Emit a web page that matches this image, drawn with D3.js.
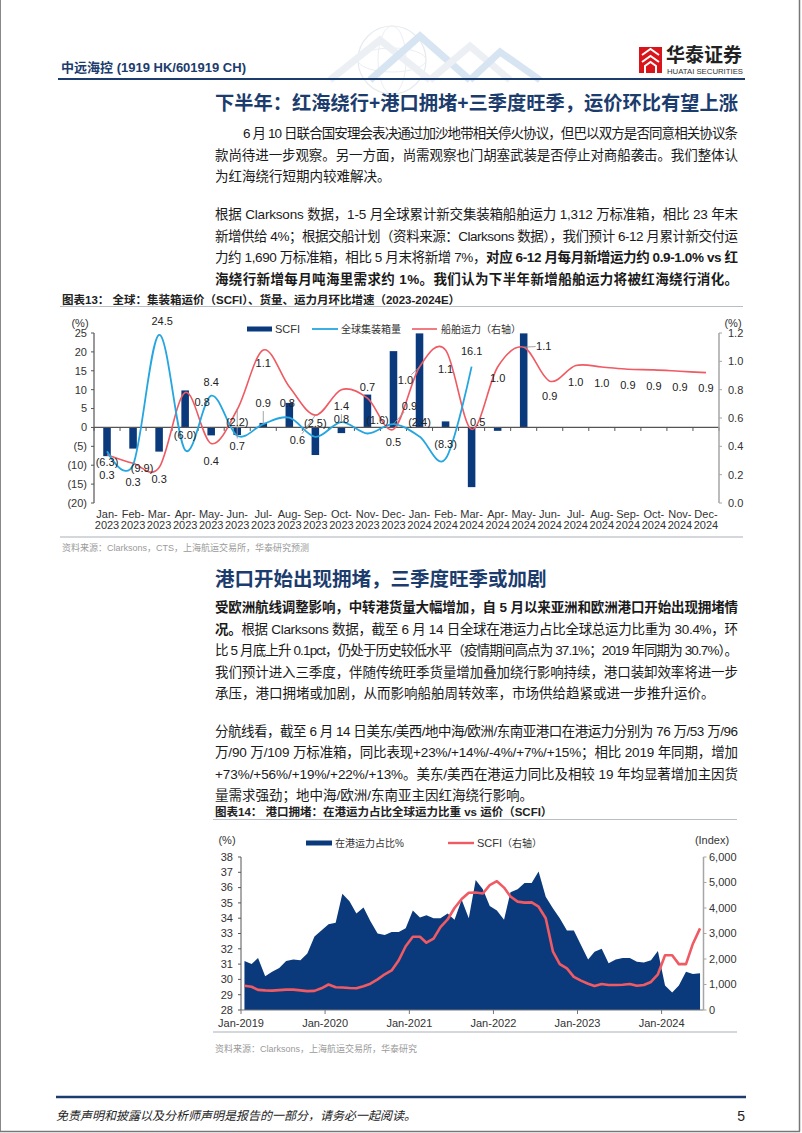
<!DOCTYPE html>
<html><head><meta charset="utf-8">
<script src="https://cdn.jsdelivr.net/npm/d3@7"></script>
<style>
html,body{margin:0;padding:0;background:#fff;}
svg{display:block;}
</style></head>
<body>
<svg id="page" width="802" height="1133"></svg>
<script>
// ================= DATA =================
// Chart 13: monthly MoM growth (%)
const months1 = ["Jan-2023","Feb-2023","Mar-2023","Apr-2023","May-2023","Jun-2023","Jul-2023","Aug-2023","Sep-2023","Oct-2023","Nov-2023","Dec-2023",
                 "Jan-2024","Feb-2024","Mar-2024","Apr-2024","May-2024","Jun-2024","Jul-2024","Aug-2024","Sep-2024","Oct-2024","Nov-2024","Dec-2024"];
const scfiMoM = [-7.6,-5.6,-6.4,9.8,-2.1,-2.0,1.2,6.5,-7.3,-1.5,8.7,20.2,24.9,1.6,-15.8,-0.9,24.9,null,null,null,null,null,null,null];
const volumeMoM = [-6.3,-9.9,24.5,-6.0,8.4,-2.2,0.9,2.6,-2.5,1.4,-1.6,0.9,-2.4,-8.3,16.1,null,null,null,null,null,null,null,null,null];
const capacityMoM = [0.34,0.28,0.25,0.78,0.42,0.66,1.08,0.82,0.62,0.80,0.74,0.52,0.96,1.08,0.52,0.96,1.10,0.86,0.97,0.96,0.944,0.94,0.93,0.92];
const leftTicks1 = [-20,-15,-10,-5,0,5,10,15,20,25];
const rightTicks1 = [0,0.2,0.4,0.6,0.8,1.0,1.2];

// Chart 14: share of fleet capacity in port (%) and SCFI index, monthly Jan-2019 .. Jun-2024
const portShare = [31.2,31.0,31.4,30.2,30.5,30.75,31.2,31.3,31.25,31.7,32.8,33.2,
                   33.6,33.7,35.6,35.1,34.3,34.7,33.8,33.0,32.9,33.1,33.1,33.35,
                   34.5,34.05,34.2,34.0,34.0,34.3,33.9,35.2,34.0,36.5,35.9,34.8,
                   34.5,33.9,35.7,35.9,36.3,36.3,37.05,35.4,34.65,34.0,33.2,33.2,
                   32.25,31.3,31.8,32.0,31.05,31.3,31.4,31.4,31.15,31.1,31.25,31.85,
                   29.6,29.15,29.6,30.5,30.35,30.4];
const scfiIndex = [950,910,790,770,760,780,800,800,770,740,750,850,
                   1000,890,880,860,850,930,1030,1200,1400,1550,1950,2500,
                   2870,2870,2640,2800,3250,3550,4000,4350,4600,4610,4570,4900,
                   5050,4800,4450,4250,4210,4220,4050,3600,2300,1800,1630,1300,
                   1150,1030,940,1020,980,980,990,1020,950,980,1100,1400,
                   2150,2150,1800,1800,2600,3200];
const xTickLabels2 = ["Jan-2019","Jan-2020","Jan-2021","Jan-2022","Jan-2023","Jan-2024"];
const leftTicks2 = [28,29,30,31,32,33,34,35,36,37,38];
const rightTicks2 = [0,1000,2000,3000,4000,5000,6000];

// ================= SETUP =================
const svg = d3.select("#page");
const LAT = "'Liberation Sans', Arial, 'Noto Sans CJK SC', sans-serif";
const NAVY = "#1b3c6d";
const BAR = "#0b3a7c";
const RED = "#ef5a63";
const BLUE = "#25a6e0";

// page frame
svg.append("line").attr("x1",0.5).attr("x2",0.5).attr("y1",0).attr("y2",1131).attr("stroke","#888");
svg.append("line").attr("x1",799.5).attr("x2",799.5).attr("y1",0).attr("y2",1131.5).attr("stroke","#777").attr("stroke-width",1.5);
svg.append("line").attr("x1",0).attr("x2",800).attr("y1",1131.5).attr("y2",1131.5).attr("stroke","#777").attr("stroke-width",1.5);

// header decoration (faint)
const deco = svg.append("g").attr("opacity",0.35);
deco.append("circle").attr("cx",392).attr("cy",60).attr("r",34).attr("fill","none").attr("stroke","#b9c6d6").attr("stroke-width",1.2);
deco.append("ellipse").attr("cx",392).attr("cy",60).attr("rx",34).attr("ry",12).attr("fill","none").attr("stroke","#c6d1de");
deco.append("ellipse").attr("cx",392).attr("cy",60).attr("rx",14).attr("ry",34).attr("fill","none").attr("stroke","#c6d1de");
[[330,80,380,40,430,80],[370,80,420,36,470,80],[430,80,470,46,510,80],[470,80,500,52,540,80]].forEach((p,i)=>{
  deco.append("path").attr("d",`M${p[0]},${p[1]}L${p[2]},${p[3]}L${p[4]},${p[5]}`)
    .attr("fill","none").attr("stroke", i%2? "#8fb3dc":"#c9d3df").attr("stroke-width",7);
});

// header
const hdr = svg.append("text").attr("x",61).attr("y",72).attr("fill",NAVY).attr("font-weight","bold").attr("font-size",13).attr("font-family",LAT);
hdr.append("tspan").text("中远海控");
hdr.append("tspan").text(" (1919 HK/601919 CH)");
svg.append("line").attr("x1",58).attr("x2",745).attr("y1",79).attr("y2",79).attr("stroke",NAVY).attr("stroke-width",2);

// logo
const logo = svg.append("g");
logo.append("rect").attr("x",639).attr("y",47).attr("width",23).attr("height",26).attr("fill","#d9141b");
logo.append("path").attr("d","M642,55 L650.5,49 L659,55 M642,62 L650.5,56 L659,62 M645,73 L645,66 L650.5,62 L656,66 L656,73")
  .attr("fill","none").attr("stroke","#fff").attr("stroke-width",2);
logo.append("text").attr("x",666).attr("y",62).attr("font-size",19).attr("font-weight","bold").attr("fill","#222")
  .attr("font-family","'Noto Sans CJK SC', sans-serif").text("华泰证券");
logo.append("text").attr("x",667).attr("y",73.5).attr("font-size",6.4).attr("fill","#333").attr("font-family",LAT)
  .attr("textLength",76).attr("lengthAdjust","spacingAndGlyphs").text("HUATAI SECURITIES");

// headings
svg.append("text").attr("x",215).attr("y",110).attr("font-size",19.5).attr("font-weight","bold").attr("fill",NAVY)
  .attr("font-family",LAT).attr("textLength",523).attr("lengthAdjust","spacingAndGlyphs")
  .text("下半年：红海绕行+港口拥堵+三季度旺季，运价环比有望上涨");
svg.append("text").attr("x",215).attr("y",586).attr("font-size",19.5).attr("font-weight","bold").attr("fill",NAVY)
  .attr("font-family",LAT).text("港口开始出现拥堵，三季度旺季或加剧");

// body text lines: [segments [text, bold]], full-width justified?
const bodyText = [
  {y:133, ind:28, full:true, t:[["6 月 10 日联合国安理会表决通过加沙地带相关停火协议，但巴以双方是否同意相关协议条",0]]},
  {y:154.5, full:true, t:[["款尚待进一步观察。另一方面，尚需观察也门胡塞武装是否停止对商船袭击。我们整体认",0]]},
  {y:176, t:[["为红海绕行短期内较难解决。",0]]},
  {y:214, full:true, t:[["根据 Clarksons 数据，1-5 月全球累计新交集装箱船舶运力 1,312 万标准箱，相比 23 年末",0]]},
  {y:235.5, full:true, t:[["新增供给 4%；根据交船计划（资料来源：Clarksons 数据），我们预计 6-12 月累计新交付运",0]]},
  {y:257, full:true, t:[["力约 1,690 万标准箱，相比 5 月末将新增 7%，",0],["对应 6-12 月每月新增运力约 0.9-1.0% vs 红",1]]},
  {y:278.5, full:true, t:[["海绕行新增每月吨海里需求约 1%。我们认为下半年新增船舶运力将被红海绕行消化。",1]]},
  {y:607, full:true, t:[["受欧洲航线调整影响，中转港货量大幅增加，自 5 月以来亚洲和欧洲港口开始出现拥堵情",1]]},
  {y:628.5, full:true, t:[["况。",1],["根据 Clarksons 数据，截至 6 月 14 日全球在港运力占比全球总运力比重为 30.4%，环",0]]},
  {y:650, full:true, t:[["比 5 月底上升 0.1pct，仍处于历史较低水平（疫情期间高点为 37.1%；2019 年同期为 30.7%）。",0]]},
  {y:671.5, full:true, t:[["我们预计进入三季度，伴随传统旺季货量增加叠加绕行影响持续，港口装卸效率将进一步",0]]},
  {y:693, t:[["承压，港口拥堵或加剧，从而影响船舶周转效率，市场供给趋紧或进一步推升运价。",0]]},
  {y:730.5, full:true, t:[["分航线看，截至 6 月 14 日美东/美西/地中海/欧洲/东南亚港口在港运力分别为 76 万/53 万/96",0]]},
  {y:752, full:true, t:[["万/90 万/109 万标准箱，同比表现+23%/+14%/-4%/+7%/+15%；相比 2019 年同期，增加",0]]},
  {y:773.5, full:true, t:[["+73%/+56%/+19%/+22%/+13%。美东/美西在港运力同比及相较 19 年均显著增加主因货",0]]},
  {y:795, t:[["量需求强劲；地中海/欧洲/东南亚主因红海绕行影响。",0]]}
];
bodyText.forEach(l=>{
  const x0 = 215 + (l.ind||0);
  const t = svg.append("text").attr("x",x0).attr("y",l.y+5).attr("font-size",13.5).attr("fill","#1a1a1a").attr("font-family",LAT);
  if (l.full) t.attr("textLength",738-x0).attr("lengthAdjust","spacing");
  l.t.forEach(s=>t.append("tspan").attr("font-weight",s[1]?"bold":"normal").text(s[0]));
});

// ================= CHART 13 =================
const g1 = svg.append("g");
g1.append("text").attr("x",62).attr("y",304).attr("font-size",11.5).attr("font-weight","bold").attr("fill","#222").attr("font-family",LAT)
  .text("图表13：  全球：集装箱运价（SCFI）、货量、运力月环比增速（2023-2024E）");
g1.append("line").attr("x1",60).attr("x2",743).attr("y1",306.5).attr("y2",306.5).attr("stroke","#b8bec8");
g1.append("line").attr("x1",60).attr("x2",743).attr("y1",537).attr("y2",537).attr("stroke","#d4d7dc").attr("stroke-width",2);
g1.append("text").attr("x",62).attr("y",551).attr("font-size",9).attr("fill","#9a9a9a").attr("font-family",LAT)
  .text("资料来源：Clarksons，CTS，上海航运交易所，华泰研究预测");

const x1 = d3.scaleBand().domain(months1).range([94,719]);
const yL = d3.scaleLinear().domain([-20,25]).range([503,333]);
const yR = d3.scaleLinear().domain([0,1.2]).range([503,333]);
const bw = x1.bandwidth();
const cx = m => x1(m) + bw/2;

// bars
g1.append("g").selectAll("rect").data(months1.map((m,i)=>({m,v:scfiMoM[i]})).filter(d=>d.v!=null))
  .join("rect")
  .attr("x",d=>cx(d.m)-bw*0.145).attr("width",bw*0.29)
  .attr("y",d=>yL(Math.max(0,d.v))).attr("height",d=>Math.abs(yL(d.v)-yL(0)))
  .attr("fill",BAR);

// zero axis + ticks
g1.append("line").attr("x1",94).attr("x2",719).attr("y1",yL(0)).attr("y2",yL(0)).attr("stroke","#555").attr("stroke-width",1.3);
g1.append("g").selectAll("line").data(d3.range(months1.length+1)).join("line")
  .attr("x1",i=>94+i*x1.step()).attr("x2",i=>94+i*x1.step()).attr("y1",yL(0)).attr("y2",yL(0)+3.5).attr("stroke","#555");

// left axis
g1.append("line").attr("x1",94).attr("x2",94).attr("y1",yL(25)).attr("y2",yL(-20)).attr("stroke","#555").attr("stroke-width",1.2);
const lt = g1.append("g").selectAll("g").data(leftTicks1).join("g");
lt.append("line").attr("x1",91).attr("x2",94).attr("y1",d=>yL(d)).attr("y2",d=>yL(d)).attr("stroke","#555");
lt.append("text").attr("x",87).attr("y",d=>yL(d)).attr("dy","0.35em").attr("text-anchor","end")
  .attr("font-size",11).attr("fill","#333").attr("font-family",LAT).text(d=>d<0?`(${-d})`:d);
g1.append("text").attr("x",80).attr("y",323).attr("dy","0.35em").attr("text-anchor","middle").attr("font-size",11).attr("fill","#333").attr("font-family",LAT).text("(%)");

// right axis
g1.append("line").attr("x1",719).attr("x2",719).attr("y1",yR(1.2)).attr("y2",yR(0)).attr("stroke","#a6a6a6").attr("stroke-width",1.5);
const rt = g1.append("g").selectAll("g").data(rightTicks1).join("g");
rt.append("line").attr("x1",719).attr("x2",722).attr("y1",d=>yR(d)).attr("y2",d=>yR(d)).attr("stroke","#a6a6a6");
rt.append("text").attr("x",728).attr("y",d=>yR(d)).attr("dy","0.35em").attr("font-size",11).attr("fill","#333").attr("font-family",LAT).text(d=>d3.format(".1f")(d));
g1.append("text").attr("x",733).attr("y",323).attr("dy","0.35em").attr("text-anchor","middle").attr("font-size",11).attr("fill","#333").attr("font-family",LAT).text("(%)");

// x labels
const xl = g1.append("g").selectAll("text").data(months1).join("text")
  .attr("x",d=>cx(d)).attr("y",514).attr("text-anchor","middle").attr("font-size",11).attr("fill","#333").attr("font-family",LAT);
xl.append("tspan").attr("x",d=>cx(d)).attr("dy","0.35em").text(d=>d.split("-")[0]+"-");
xl.append("tspan").attr("x",d=>cx(d)).attr("dy","1.05em").text(d=>d.split("-")[1]);

// lines
const smooth = d3.curveCardinal.tension(0);
const volPts = months1.map((m,i)=>({m,v:volumeMoM[i]}));
const capPts = months1.map((m,i)=>({m,v:capacityMoM[i]}));
g1.append("path").datum(capPts).attr("fill","none").attr("stroke",RED).attr("stroke-width",1.6)
  .attr("d",d3.line().defined(d=>d.v!=null).x(d=>cx(d.m)).y(d=>yR(d.v)).curve(smooth));
g1.append("path").datum(volPts).attr("fill","none").attr("stroke",BLUE).attr("stroke-width",1.8)
  .attr("d",d3.line().defined(d=>d.v!=null).x(d=>cx(d.m)).y(d=>yL(d.v)).curve(smooth));

// data labels (anchored at series points with pixel offsets)
const fmtVol = v => v<0 ? `(${d3.format(".1f")(-v)})` : d3.format(".1f")(v);
const labelCfg = [
  ["cap",0,0,20],["cap",1,0,19],["cap",2,0,12],["cap",3,17,10],["cap",4,0,18],["cap",5,0,37,1],["cap",6,0,13],
  ["cap",7,-2,16],["cap",8,-18,25,1],["cap",9,0,29],["cap",10,0,-11],["cap",11,0,13],["cap",12,-14,13,1],["cap",13,0,19],
  ["cap",14,6,-7],["cap",15,0,11],["cap",16,20,-1,1],["cap",17,0,15],["cap",18,0,17],["cap",19,0,16],["cap",20,0,16],
  ["cap",21,0,16],["cap",22,0,16],["cap",23,0,15],
  ["vol",0,0,11],["vol",1,9,3],["vol",2,3,-14],["vol",3,0,-15],["vol",4,0,-14],["vol",5,0,-14],["vol",6,0,-21,1],
  ["vol",8,0,-14],["vol",9,0,-16,1],["vol",10,10,-13],["vol",11,16,-18,1],["vol",12,0,-14],["vol",13,0,-15],["vol",14,0,-15]
];
const lab = g1.append("g");
labelCfg.forEach(([s,i,dx,dy,lead])=>{
  const v = s==="cap" ? capacityMoM[i] : volumeMoM[i];
  const ax = cx(months1[i]), ay = s==="cap" ? yR(v) : yL(v);
  const lx = ax+dx, ly = ay+dy;
  if (lead) {
    const len = Math.hypot(dx,dy), k = Math.max(0,(len-8)/len);
    lab.append("line").attr("x1",ax).attr("y1",ay).attr("x2",ax+dx*k).attr("y2",ay+dy*k).attr("stroke","#9a9a9a").attr("stroke-width",0.9);
  }
  lab.append("text").attr("x",lx).attr("y",ly).attr("dy","0.35em").attr("text-anchor","middle")
    .attr("font-size",11).attr("fill","#222").attr("font-family",LAT)
    .text(s==="cap" ? d3.format(".1f")(v) : fmtVol(v));
});

// legend
const lg = g1.append("g").attr("font-family",LAT).attr("font-size",11).attr("fill","#333");
lg.append("rect").attr("x",247).attr("y",326.5).attr("width",25).attr("height",5).attr("fill",BAR);
lg.append("text").attr("x",275).attr("y",329).attr("dy","0.35em").text("SCFI");
lg.append("line").attr("x1",312).attr("x2",338).attr("y1",329).attr("y2",329).attr("stroke",BLUE).attr("stroke-width",1.8);
lg.append("text").attr("x",341).attr("y",329).attr("dy","0.35em").attr("font-size",10).text("全球集装箱量");
lg.append("line").attr("x1",412).attr("x2",437).attr("y1",329).attr("y2",329).attr("stroke",RED).attr("stroke-width",1.6);
lg.append("text").attr("x",441).attr("y",329).attr("dy","0.35em").attr("font-size",10).text("船舶运力（右轴）");

// ================= CHART 14 =================
const g2 = svg.append("g");
g2.append("text").attr("x",215).attr("y",816).attr("font-size",11.5).attr("font-weight","bold").attr("fill","#222").attr("font-family",LAT)
  .text("图表14：  港口拥堵：在港运力占比全球运力比重 vs 运价（SCFI）");
g2.append("line").attr("x1",213).attr("x2",737).attr("y1",819.5).attr("y2",819.5).attr("stroke","#b8bec8");
g2.append("line").attr("x1",213).attr("x2",737).attr("y1",1032).attr("y2",1032).attr("stroke","#d4d7dc").attr("stroke-width",2);
g2.append("text").attr("x",215).attr("y",1052).attr("font-size",9).attr("fill","#9a9a9a").attr("font-family",LAT)
  .text("资料来源：Clarksons，上海航运交易所，华泰研究");

const x2 = d3.scaleTime().domain([new Date(2019,0,1), new Date(2024,6,1)]).range([241,703.5]);
const y2L = d3.scaleLinear().domain([28,38]).range([1010,857]);
const y2R = d3.scaleLinear().domain([0,6000]).range([1010,857]);
const monthStarts = d3.timeMonth.range(new Date(2019,0,1), new Date(2024,6,1));
const pts2 = monthStarts.map((d,i)=>({d:new Date(d.getFullYear(), d.getMonth(), 16), a:portShare[i], s:scfiIndex[i]}));

g2.append("path").datum(pts2).attr("fill",BAR)
  .attr("d",d3.area().x(d=>x2(d.d)).y0(y2L(28)).y1(d=>y2L(d.a)));
g2.append("path").datum(pts2).attr("fill","none").attr("stroke",RED).attr("stroke-width",2.6).attr("stroke-linejoin","round")
  .attr("d",d3.line().x(d=>x2(d.d)).y(d=>y2R(d.s)));

// axes
g2.append("line").attr("x1",241).attr("x2",241).attr("y1",857).attr("y2",1010).attr("stroke","#555");
const lt2 = g2.append("g").selectAll("g").data(leftTicks2).join("g");
lt2.append("line").attr("x1",238).attr("x2",241).attr("y1",d=>y2L(d)).attr("y2",d=>y2L(d)).attr("stroke","#555");
lt2.append("text").attr("x",233).attr("y",d=>y2L(d)).attr("dy","0.35em").attr("text-anchor","end").attr("font-size",11).attr("fill","#333").attr("font-family",LAT).text(d=>d);
g2.append("line").attr("x1",241).attr("x2",703.5).attr("y1",1010).attr("y2",1010).attr("stroke","#777");
const yearTicks = xTickLabels2.map(s=>new Date(+s.split("-")[1],0,1));
g2.append("g").selectAll("line").data(yearTicks).join("line")
  .attr("x1",d=>x2(d)).attr("x2",d=>x2(d)).attr("y1",1010).attr("y2",1014).attr("stroke","#777");
g2.append("g").selectAll("text").data(xTickLabels2).join("text")
  .attr("x",(d,i)=>x2(yearTicks[i])).attr("y",1023).attr("dy","0.35em").attr("text-anchor","middle")
  .attr("font-size",11).attr("fill","#333").attr("font-family",LAT).text(d=>d);
g2.append("line").attr("x1",703.5).attr("x2",703.5).attr("y1",857).attr("y2",1010).attr("stroke","#a6a6a6").attr("stroke-width",1.5);
const rt2 = g2.append("g").selectAll("g").data(rightTicks2).join("g");
rt2.append("line").attr("x1",703.5).attr("x2",706.5).attr("y1",d=>y2R(d)).attr("y2",d=>y2R(d)).attr("stroke","#a6a6a6");
rt2.append("text").attr("x",709).attr("y",d=>y2R(d)).attr("dy","0.35em").attr("font-size",11).attr("fill","#333").attr("font-family",LAT).text(d=>d3.format(",")(d));
g2.append("text").attr("x",227).attr("y",840).attr("dy","0.35em").attr("text-anchor","middle").attr("font-size",11).attr("fill","#333").attr("font-family",LAT).text("(%)");
g2.append("text").attr("x",712).attr("y",840).attr("dy","0.35em").attr("text-anchor","middle").attr("font-size",11).attr("fill","#333").attr("font-family",LAT).text("(Index)");

// legend
const lg2 = g2.append("g").attr("font-family",LAT).attr("fill","#333");
lg2.append("rect").attr("x",306).attr("y",840.5).attr("width",26).attr("height",5).attr("fill",BAR);
lg2.append("text").attr("x",335).attr("y",843).attr("dy","0.35em").attr("font-size",10).text("在港运力占比%");
lg2.append("line").attr("x1",448).attr("x2",474).attr("y1",843).attr("y2",843).attr("stroke",RED).attr("stroke-width",2.4);
lg2.append("text").attr("x",477).attr("y",843).attr("dy","0.35em").attr("font-size",11).text("SCFI").append("tspan").attr("font-size",10).text("（右轴）");

// ================= FOOTER =================
svg.append("line").attr("x1",56).attr("x2",746).attr("y1",1097).attr("y2",1097).attr("stroke",NAVY).attr("stroke-width",2.5);
svg.append("text").attr("x",56).attr("y",1120).attr("font-size",12).attr("font-style","italic").attr("fill","#222").attr("font-family",LAT)
  .text("免责声明和披露以及分析师声明是报告的一部分，请务必一起阅读。");
svg.append("text").attr("x",745).attr("y",1121).attr("text-anchor","end").attr("font-size",14).attr("fill","#222").attr("font-family",LAT).text("5");
</script>
</body></html>
